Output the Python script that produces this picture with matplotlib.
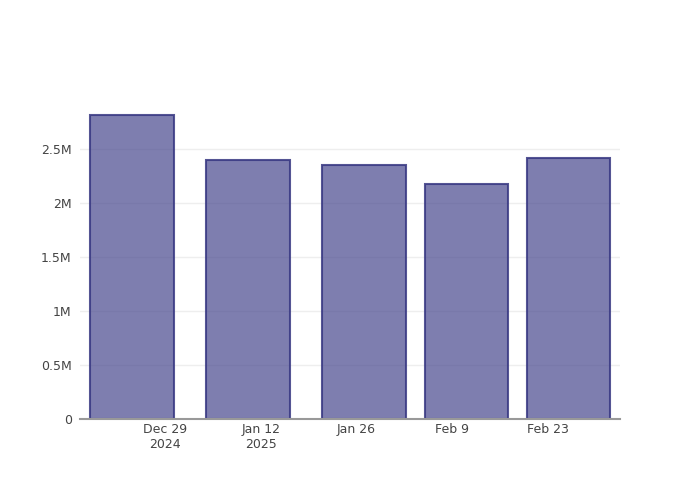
import numpy as np
import pandas as pd
import matplotlib
matplotlib.use("Agg")
import matplotlib.pyplot as plt
import matplotlib.dates as mdates

bar_dates = pd.to_datetime(["2024-12-24", "2025-01-10", "2025-01-27", "2025-02-11", "2025-02-26"])
bar_values = [2815000, 2401000, 2352000, 2176000, 2422000]
tick_dates = pd.to_datetime(["2024-12-29", "2025-01-12", "2025-01-26", "2025-02-09", "2025-02-23"])
tick_labels = ["Dec 29\n2024", "Jan 12\n2025", "Jan 26", "Feb 9", "Feb 23"]
y_ticks = [0, 500000, 1000000, 1500000, 2000000, 2500000]
y_labels = ["0", "0.5M", "1M", "1.5M", "2M", "2.5M"]

fig = plt.figure(figsize=(7, 5), dpi=100)
ax = fig.add_axes([80 / 700, 80.7 / 500, 540 / 700, 319.3 / 500])

ax.bar(mdates.date2num(bar_dates) + 0.1, bar_values, width=12.2,
       color=(72 / 255, 72 / 255, 142 / 255, 0.7),
       edgecolor=(55 / 255, 55 / 255, 130 / 255, 0.85), linewidth=1.5, zorder=3)

x0 = mdates.date2num(tick_dates[0])
ax.set_xlim(x0 - 12.5, x0 + 66.6)
ax.set_ylim(0, 2956000)

ax.set_xticks(mdates.date2num(tick_dates))
ax.set_xticklabels(tick_labels)
ax.set_yticks(y_ticks)
ax.set_yticklabels(y_labels)
ax.tick_params(axis="both", length=0, labelsize=9, labelcolor="#444444")
ax.tick_params(axis="x", pad=3)
ax.tick_params(axis="y", pad=6)
for lab in ax.get_xticklabels():
    lab.set_linespacing(1.15)

ax.grid(axis="y", color="#eeeeee", linewidth=1, zorder=0)
for side in ["top", "right", "left"]:
    ax.spines[side].set_visible(False)
ax.spines["bottom"].set_color("#999999")
ax.spines["bottom"].set_linewidth(1.5)
ax.spines["bottom"].set_zorder(4)

fig.savefig("out.png", dpi=100)
